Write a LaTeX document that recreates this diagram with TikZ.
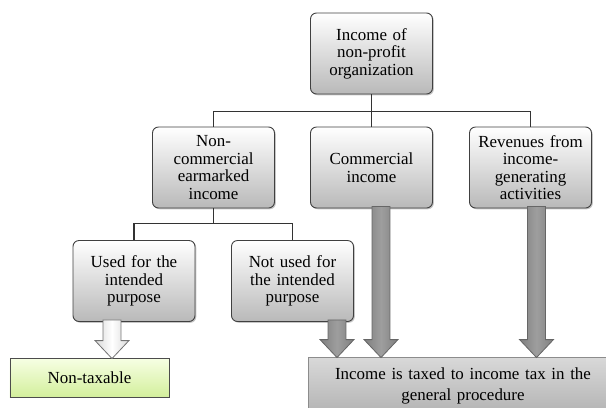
\documentclass[tikz,border=0pt]{standalone}
\usepackage{fontspec}
\setmainfont{Liberation Serif}
\usetikzlibrary{calc,shadows}

\definecolor{ntTop}{HTML}{F7FFE4}
\definecolor{ntBot}{HTML}{D3EF9C}

\tikzset{
  box/.style={draw=black!75, line width=0.9bp, rounded corners=6bp,
    top color=white, bottom color=gray!55,
    drop shadow={shadow xshift=1.3bp, shadow yshift=-1.3bp, opacity=.45},
    minimum width=122bp, minimum height=81bp, text width=116bp,
    align=center, inner sep=2bp, font=\fontsize{17}{17.5}\selectfont},
  freebox/.style={draw=black!70, line width=0.9bp, top color=ntTop, bottom color=ntBot,
    drop shadow={shadow xshift=1.3bp, shadow yshift=-1.3bp, opacity=.45},
    minimum width=159bp, minimum height=39bp, font=\fontsize{17}{17.5}\selectfont},
  taxbox/.style={draw=black!45, line width=0.9bp, top color=gray!30, bottom color=gray!60,
    minimum width=310bp, minimum height=58bp, text width=300bp, align=center,
    font=\fontsize{17}{21.5}\selectfont},
  link/.style={draw=black!80, line width=1.1bp},
  greyarrow/.style={draw=black!60, line width=0.8bp, left color=black!50, right color=black!50, middle color=black!38},
  openarrow/.style={draw=black!55, line width=0.8bp, left color=gray!30, right color=gray!30, middle color=white}
}

% block arrow: style, from node, to node, x shift from the from-node
\newcommand\fatarrow[4]{%
  \path[#1] let \p1=($(#2.south)+(#4,0)$), \p2=(#3.north) in
    (\x1-9pt,\y1+2pt) -- (\x1-9pt,\y2+17pt) -- (\x1-17pt,\y2+17pt) -- (\x1,\y2-1pt)
    -- (\x1+17pt,\y2+17pt) -- (\x1+9pt,\y2+17pt) -- (\x1+9pt,\y1+2pt) -- cycle;}

\begin{document}
\begin{tikzpicture}[x=1bp,y=-1bp]

    \useasboundingbox (0,0) rectangle (606,407);
    \clip (0,0) rectangle (606,407);

    %boxes:
    \node[box] (income) at (371.5,53.5) {Income of\\non-profit\\organization};
    \node[box] (noncom) at (213.5,167.5) {Non-\\commercial\\earmarked\\income};
    \node[box] (comm) at (371.5,167.5) {Commercial\\income};
    \node[box] (revenue) at (530.5,167.5) {Revenues from\\income-\\generating\\activities};
    \node[box] (used) at (134,281) {Used for the\\intended\\purpose};
    \node[box] (notused) at (292.5,281) {Not used for\\the intended\\purpose};

    \node[freebox] (nontax) at (89.5,377.5) {Non-taxable};
    \node[taxbox] (taxed) at (463,386) {Income is taxed to income tax in the\\general procedure};

    %tree lines:
    \draw[link] (income.south) -- ++(0,17) -| (noncom.north);
    \draw[link] (income.south) -- ++(0,17) -| (revenue.north);
    \draw[link] (income.south) -- (comm.north);
    \draw[link] (noncom.south) -- ++(0,15) -| (used.north);
    \draw[link] (noncom.south) -- ++(0,15) -| (notused.north);

    %arrows:
    \fatarrow{openarrow}{used}{nontax}{-22}
    \fatarrow{greyarrow}{notused}{taxed}{44.5}
    \fatarrow{greyarrow}{comm}{taxed}{9.5}
    \fatarrow{greyarrow}{revenue}{taxed}{6}

\end{tikzpicture}
\end{document}
